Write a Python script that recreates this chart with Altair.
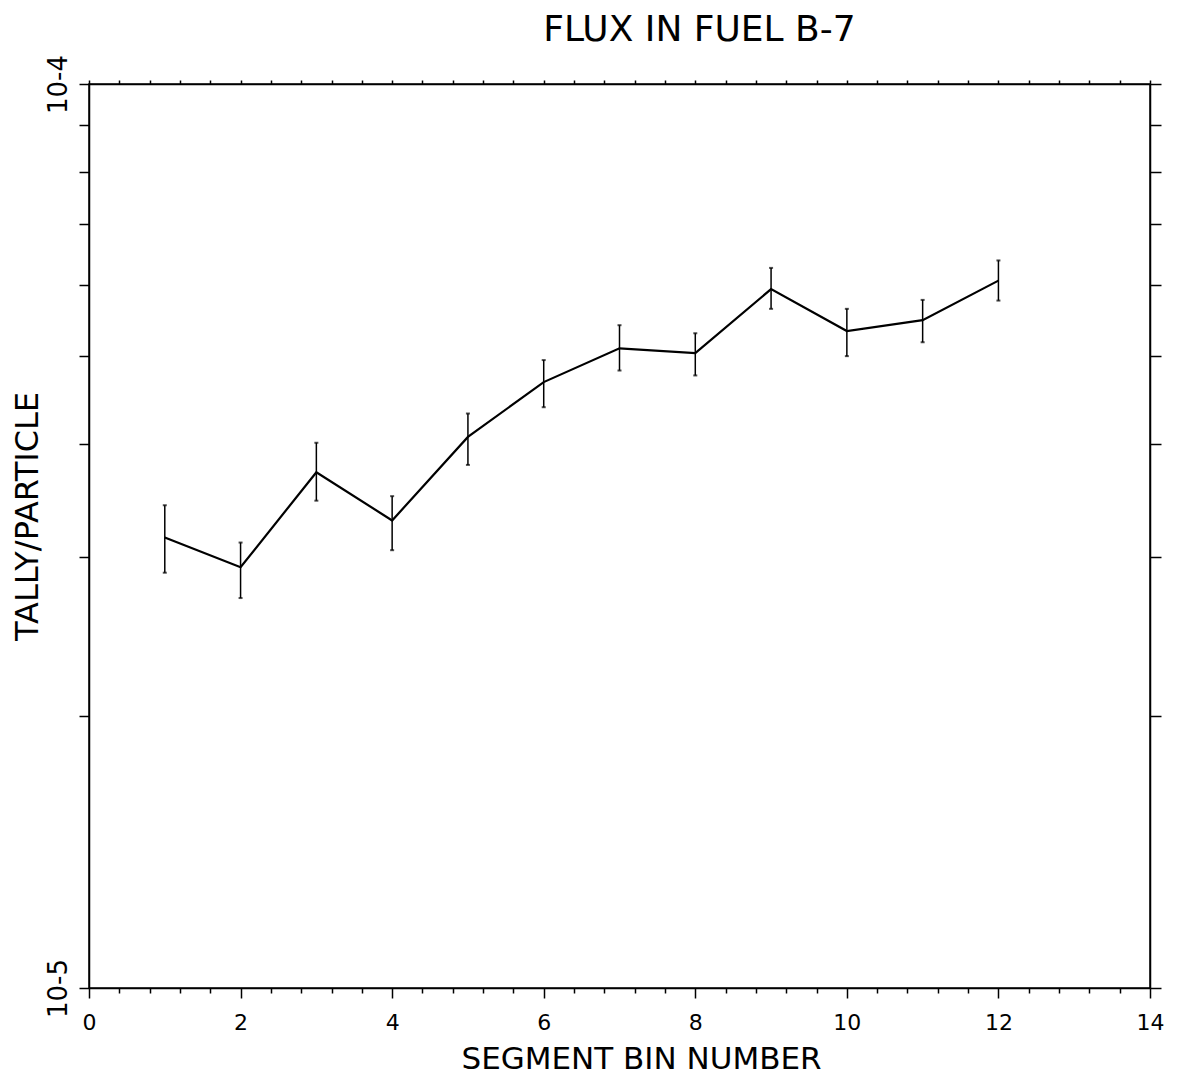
import altair as alt
import pandas as pd

# ---- data ----
segment = [1, 2, 3, 4, 5, 6, 7, 8, 9, 10, 11, 12]
flux = [3.15e-5, 2.92e-5, 3.72e-5, 3.29e-5, 4.07e-5, 4.68e-5,
        5.10e-5, 5.04e-5, 5.93e-5, 5.33e-5, 5.48e-5, 6.06e-5]
flux_lo = [2.88e-5, 2.70e-5, 3.46e-5, 3.05e-5, 3.79e-5, 4.39e-5,
           4.82e-5, 4.76e-5, 5.64e-5, 5.00e-5, 5.18e-5, 5.76e-5]
flux_hi = [3.42e-5, 3.11e-5, 4.01e-5, 3.50e-5, 4.32e-5, 4.95e-5,
           5.41e-5, 5.30e-5, 6.26e-5, 5.64e-5, 5.77e-5, 6.38e-5]

x_ticks = [0.0, 0.4, 0.8, 1.2, 1.6, 2.0, 2.4, 2.8, 3.2, 3.6, 4.0, 4.4, 4.8,
           5.2, 5.6, 6.0, 6.4, 6.8, 7.2, 7.6, 8.0, 8.4, 8.8, 9.2, 9.6, 10.0,
           10.4, 10.8, 11.2, 11.6, 12.0, 12.4, 12.8, 13.2, 13.6, 14.0]
y_ticks = [1e-5, 2e-5, 3e-5, 4e-5, 5e-5, 6e-5, 7e-5, 8e-5, 9e-5, 1e-4]

df = pd.DataFrame({"segment": segment, "flux": flux, "lo": flux_lo, "hi": flux_hi})

FONT = "DejaVu Sans"
xscale = alt.Scale(domain=[0, 14], nice=False, zero=False)
yscale = alt.Scale(type="log", domain=[1e-5, 1e-4], nice=False)

x_bottom = alt.Axis(
    orient="bottom", values=x_ticks, title="SEGMENT BIN NUMBER", format=".0f",
    labelExpr="datum.value % 2 === 0 ? datum.label : ''",
    tickSize={"condition": {"test": "datum.value % 2 === 0", "value": 10}, "value": 5},
    labelFontSize=22, labelPadding=14, labelFont=FONT, labelFlush=False,
    titleFontSize=31, titleFont=FONT, titleFontWeight="normal",
    titleX=552, titleY=80, titleBaseline="alphabetic", titleAlign="center",
)
y_left = alt.Axis(
    orient="left", values=y_ticks, title="TALLY/PARTICLE",
    labelExpr="datum.value < 1.5e-5 ? '10-5' : (datum.value > 9.5e-5 ? '10-4' : '')",
    tickSize=10, labelAngle=270, labelAlign="center", labelBaseline="bottom",
    labelFontSize=26, labelPadding=8, labelFont=FONT, labelFlush=False,
    titleFontSize=32, titleFont=FONT, titleFontWeight="normal",
    titleX=-62, titleY=432, titleAngle=270, titleAlign="center", titleBaseline="middle",
)
x_top = alt.Axis(orient="top", values=x_ticks, labels=False, title=None, tickSize=4)
y_right = alt.Axis(orient="right", values=y_ticks, labels=False, title=None, tickSize=11)

line = alt.Chart(df).mark_line(color="black", strokeWidth=2.2).encode(
    x=alt.X("segment:Q", scale=xscale, axis=x_bottom),
    y=alt.Y("flux:Q", scale=yscale, axis=y_left),
)

bars = alt.Chart(df).mark_rule(color="black", strokeWidth=1.5).encode(
    x=alt.X("segment:Q", scale=xscale, axis=x_top),
    y=alt.Y("lo:Q", scale=yscale, axis=y_right),
    y2="hi:Q",
)

caps = alt.Chart(df).transform_fold(["lo", "hi"], as_=["end", "val"]).mark_tick(
    color="black", orient="horizontal", size=4, thickness=2
).encode(
    x=alt.X("segment:Q", scale=xscale, axis=None),
    y=alt.Y("val:Q", scale=yscale, axis=None),
)

chart = alt.layer(line, bars, caps).resolve_axis(
    x="independent", y="independent"
).properties(
    width=1061, height=904,
    autosize=alt.AutoSizeParams(type="none"),
    padding={"left": 81, "top": 76, "right": 19, "bottom": 90},
    title=alt.Title("FLUX IN FUEL B-7", fontSize=36, font=FONT, fontWeight="normal",
                    anchor="middle", dx=80, offset=5, color="black"),
).configure_axis(
    grid=False, domainColor="black", tickColor="black", labelColor="black",
    titleColor="black", domainWidth=1.5, tickWidth=1.5,
).configure_view(stroke="black", strokeWidth=1.5)

chart.save("out.html", embed_options={"renderer": "svg", "actions": False})
